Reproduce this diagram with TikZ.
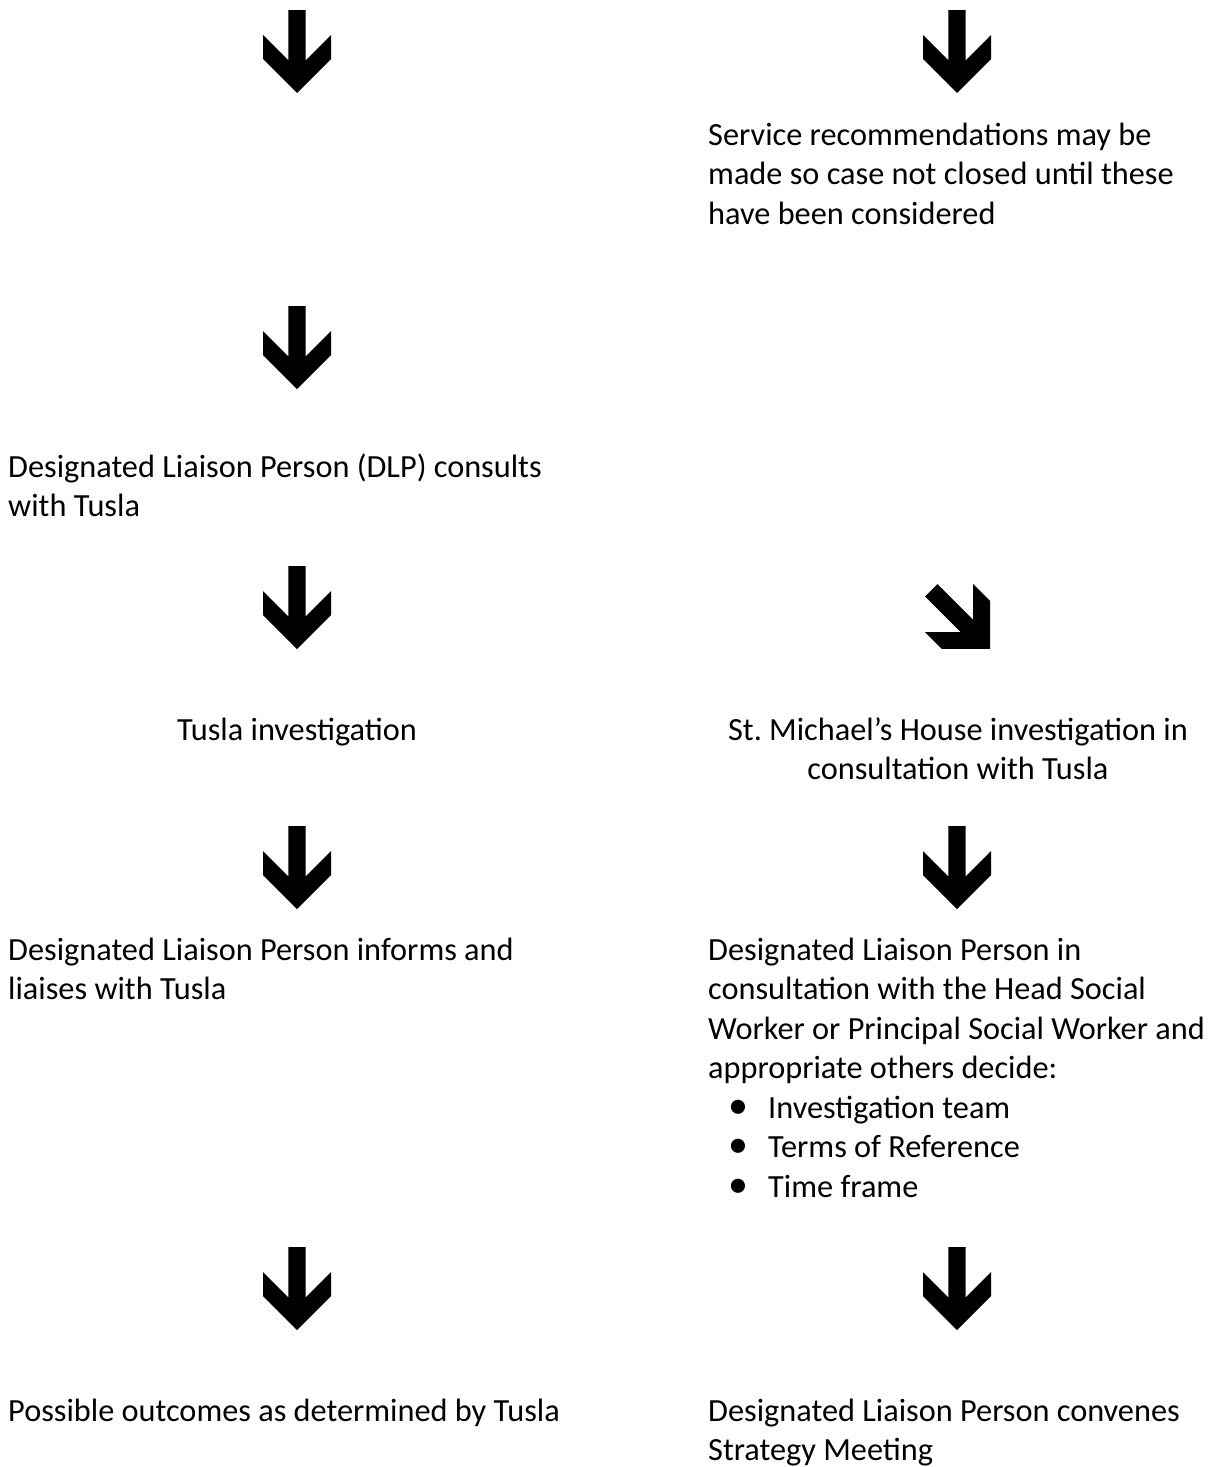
\documentclass[tikz,border=0pt]{standalone}
\usepackage{fontspec}
\setmainfont{Carlito}

\begin{document}
\begin{tikzpicture}[x=1pt, y=-1pt, inner sep=0pt]
    \tikzset{
        txt/.style      =   { anchor=base west
                            , align=left
                            , font=\fontsize{32.3}{39.5}\selectfont
        }
        , ctxt/.style   =   { anchor=base
                            , align=center
                            , font=\fontsize{32.3}{39.5}\selectfont
        }
        , darrow/.pic   =   { \fill (-8.7,0) -- (8.7,0) -- (8.7,50.3) -- (34,25) -- (34,49)
                                -- (0,83) -- (-34,49) -- (-34,25) -- (-8.7,50.3) -- cycle;
        }
    }
    \newcommand{\bitem}[1]{\rlap{\hspace*{30pt}\makebox[0pt][c]{\fontsize{40}{39.5}\selectfont •}}\hspace*{60pt}#1}
    \useasboundingbox (0,0) rectangle (1219,1467);

    % left column (multi-line nodes sit on the baseline of their last line)
    \pic (a1) at (297,10)   {darrow};
    \pic (a2) at (297,306)  {darrow};
    \node(dlp)[txt] at (8,516.5)   {Designated Liaison Person (DLP) consults\\with Tusla};
    \pic (a3) at (297,566)  {darrow};
    \node(tinv)[ctxt] at (297,740) {Tusla investigation};
    \pic (a4) at (297,826)  {darrow};
    \node(dinf)[txt] at (8,999.5)  {Designated Liaison Person informs and\\liaises with Tusla};
    \pic (a5) at (297,1247) {darrow};
    \node(pout)[txt] at (8,1421)   {Possible outcomes as determined by Tusla};

    % right column
    \pic (b1) at (957,10)   {darrow};
    \node(serv)[txt] at (708,224)  {Service recommendations may be\\made so case not closed until these\\have been considered};
    \pic[rotate=45] (b2) at (931.3,590.3) {darrow};
    \node(sinv)[ctxt] at (958,779.5) {St.\ Michael’s House investigation in\\consultation with Tusla};
    \pic (b3) at (957,826)  {darrow};
    \node(ddec)[txt] at (708,1197) {Designated Liaison Person in\\consultation with the Head Social\\Worker or Principal Social Worker and\\appropriate others decide:\\
        \bitem{Investigation team}\\\bitem{Terms of Reference}\\\bitem{Time frame}};
    \pic (b4) at (957,1247) {darrow};
    \node(dconv)[txt] at (708,1460.5) {Designated Liaison Person convenes\\Strategy Meeting};
\end{tikzpicture}
\end{document}
